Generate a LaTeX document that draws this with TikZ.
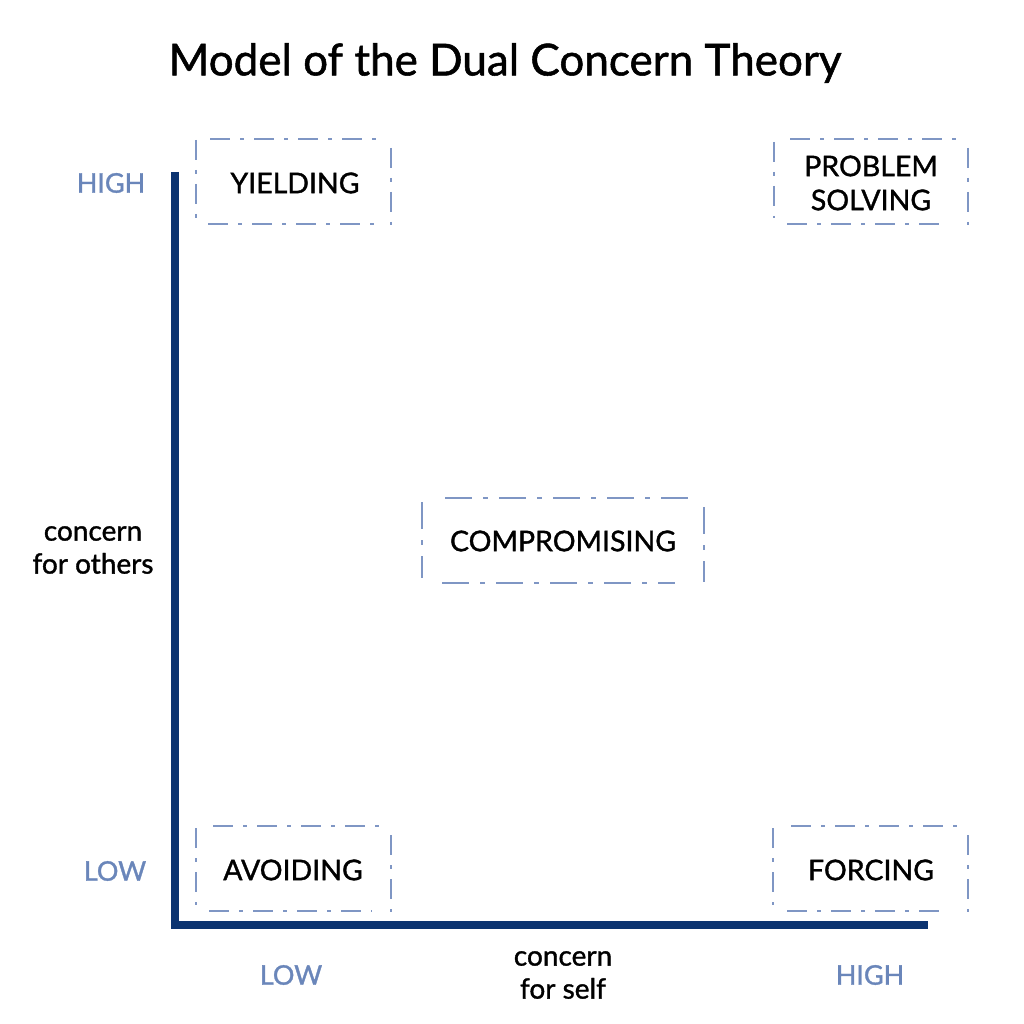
\documentclass[tikz,border=0pt]{standalone}
\usepackage{fontspec}
\setmainfont{Lato}[FakeBold=1.2]
\definecolor{axisblue}{HTML}{0B3370}
\definecolor{lblue}{HTML}{6A86BA}
\definecolor{dashblue}{HTML}{7F96C4}
\tikzset{
  axisline/.style={draw=axisblue, line width=8pt},
  boxside/.style={draw=dashblue, line width=2.4pt, dash pattern=on 20pt off 10pt on 4pt off 10pt},
  bigdash/.style={dash pattern=on 27pt off 11pt on 5pt off 11pt},
  boxlabel/.style={font=\fontsize{28.5}{34}\selectfont, text=black, align=center, inner sep=0pt},
  levlabel/.style={font=\fontsize{27}{32}\selectfont, text=lblue, inner sep=0pt},
  axislabel/.style={font=\fontsize{28}{33}\selectfont, text=black, align=center, inner sep=0pt},
}
\begin{document}
\begin{tikzpicture}[x=1pt,y=-1pt]
\useasboundingbox (0,0) rectangle (1024,1024);
\fill[white] (0,0) rectangle (1024,1024);
% title
\node[font=\fontsize{44}{48}\selectfont, inner sep=0pt] (title) at (505,63) {Model of the Dual Concern Theory};
% axes
\coordinate (top) at (175,172);
\coordinate (corner) at (175,925);
\coordinate (right) at (928,925);
\draw[axisline] (top) -- (175,929) (171,925) -- (right);
% level labels
\node[levlabel] (yhigh) at (111,183) {HIGH};
\node[levlabel] (ylow) at (115,871) {LOW};
\node[levlabel] (xlow) at (291,975) {LOW};
\node[levlabel] (xhigh) at (870,975) {HIGH};
% axis labels
\node[axislabel] (others) at (93,550) {concern\\for others};
\node[axislabel] (self) at (563,975) {concern\\for self};
% box labels
\node[boxlabel] (yield) at (295,183) {YIELDING};
\node[boxlabel] (prob) at (871,183) {PROBLEM\\SOLVING};
\node[boxlabel] (comp) at (563,541) {COMPROMISING};
\node[boxlabel] (avoid) at (293,870) {AVOIDING};
\node[boxlabel] (force) at (871,870) {FORCING};
% YIELDING box
\draw[boxside] (210,139) -- (385,139);
\draw[boxside] (196,140) -- (196,220);
\draw[boxside] (391,148) -- (391,225);
\draw[boxside] (208,224) -- (375,224);
% PROBLEM SOLVING box
\draw[boxside] (790,139) -- (958,139);
\draw[boxside] (774,142) -- (774,218);
\draw[boxside] (968,148) -- (968,225);
\draw[boxside] (787,224) -- (948,224);
% COMPROMISING box
\draw[boxside,bigdash] (445,498) -- (690,498);
\draw[boxside,bigdash] (422,502) -- (422,578);
\draw[boxside,bigdash] (704,507) -- (704,582);
\draw[boxside,bigdash] (442,583) -- (675,583);
% AVOIDING box
\draw[boxside] (213,826) -- (380,826);
\draw[boxside] (196,828) -- (196,905);
\draw[boxside] (391,835) -- (391,912);
\draw[boxside] (209,911) -- (372,911);
% FORCING box
\draw[boxside] (791,826) -- (958,826);
\draw[boxside] (773,828) -- (773,905);
\draw[boxside] (968,835) -- (968,912);
\draw[boxside] (787,911) -- (948,911);
\end{tikzpicture}
\end{document}
